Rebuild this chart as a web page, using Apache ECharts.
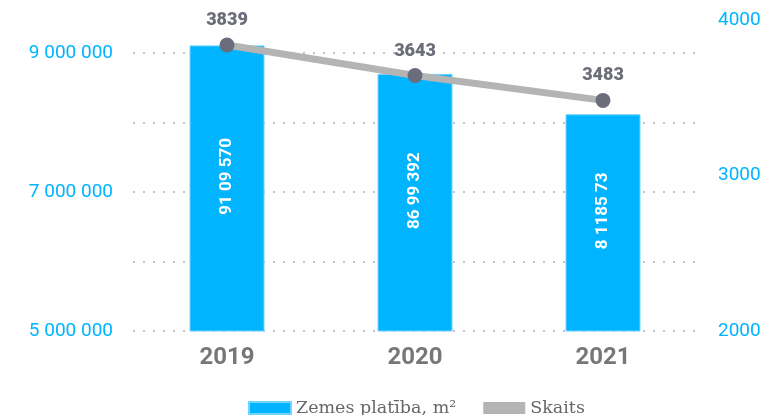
<!DOCTYPE html>
<html lang="lv">
<head>
    <meta charset="UTF-8">
    <title>Zemes platība un skaits</title>
    <script src="https://cdn.jsdelivr.net/npm/echarts@6/dist/echarts.min.js"></script>
    <style>
        html, body { margin: 0; padding: 0; background: #fff; }
    </style>
</head>
<body>
    <div id="main" style="width: 767px;height: 415px;"></div>
<script>
    // dati
    var years = ['2019', '2020', '2021'];
    var area = [9109570, 8699392, 8118573];          // Zemes platība, m²
    var areaLabels = ['91 09 570', '86 99 392', '8 1185 73'];
    var count = [3839, 3643, 3483];                  // Skaits
    var leftTicks = [5000000, 7000000, 9000000];     // rādītās kreisās ass vērtības

    var blue = '#00b4ff';
    var grey = '#b4b4b4';
    var dark = '#6b6e7a';

    function spaced(v) {
        return String(v).replace(/\B(?=(\d{3})+(?!\d))/g, ' ');
    }

    var myChart = echarts.init(document.getElementById('main'));

    // kreisā ass: 5M..9.2M, lai 2019. gada stabiņš nav nogriezts
    myChart.setOption({
        animation: false,
        textStyle: { fontFamily: 'Roboto' },
        legend: {
            top: 394,
            left: 243,
            itemWidth: 42,
            itemHeight: 12,
            itemGap: 27,
            textStyle: { fontFamily: 'DejaVu Serif', fontSize: 17.5, color: '#666' },
            data: [
                { name: 'Zemes platība, m²', icon: 'rect', itemStyle: { color: blue } },
                { name: 'Skaits', icon: 'rect', itemStyle: { color: grey } }
            ]
        },
        grid: [
            { left: 133, right: 70, top: 39.1, bottom: 84 },
            { left: 133, right: 70, top: 20, bottom: 84 }
        ],
        xAxis: [
            {
                type: 'category',
                gridIndex: 0,
                data: years,
                axisLine: { show: false },
                axisTick: { show: false },
                axisLabel: { margin: 15, fontSize: 24, fontWeight: 'bold', color: '#777' }
            },
            {
                type: 'category',
                gridIndex: 1,
                data: years,
                show: false
            }
        ],
        yAxis: [
            {
                type: 'value',
                gridIndex: 0,
                min: 5000000,
                max: 9200000,
                interval: 1000000,
                axisLine: { show: false },
                axisTick: { show: false },
                axisLabel: {
                    margin: 20,
                    fontSize: 19,
                    color: blue,
                    showMaxLabel: false,
                    formatter: function (v) {
                        return leftTicks.indexOf(v) >= 0 ? spaced(v) : '';
                    }
                },
                splitLine: { showMaxLine: false, lineStyle: { color: '#c4c4c4', width: 2, type: [2, 8] } }
            },
            {
                type: 'value',
                gridIndex: 1,
                position: 'right',
                min: 2000,
                max: 4000,
                interval: 1000,
                axisLine: { show: false },
                axisTick: { show: false },
                axisLabel: {
                    margin: 21,
                    fontSize: 19,
                    color: blue,
                    formatter: function (v) { return String(v); }
                },
                splitLine: { show: false }
            }
        ],
        series: [
            {
                name: 'Zemes platība, m²',
                type: 'bar',
                xAxisIndex: 0,
                yAxisIndex: 0,
                barWidth: 75,
                data: area,
                itemStyle: { color: blue, borderColor: '#6fd4ff', borderWidth: 1 },
                label: {
                    show: true,
                    position: 'inside',
                    offset: [12, 0],
                    rotate: 90,
                    color: '#fff',
                    fontSize: 17,
                    fontWeight: 'bold',
                    formatter: function (p) { return areaLabels[p.dataIndex]; }
                },
                z: 2
            },
            {
                name: 'Skaits',
                type: 'line',
                xAxisIndex: 1,
                yAxisIndex: 1,
                data: count,
                symbol: 'circle',
                symbolSize: 15,
                lineStyle: { color: grey, width: 7 },
                itemStyle: { color: dark },
                label: {
                    show: true,
                    position: 'top',
                    distance: 8,
                    color: dark,
                    fontSize: 18,
                    fontWeight: 900
                },
                z: 5
            }
        ]
    });
</script>
</body>
</html>
